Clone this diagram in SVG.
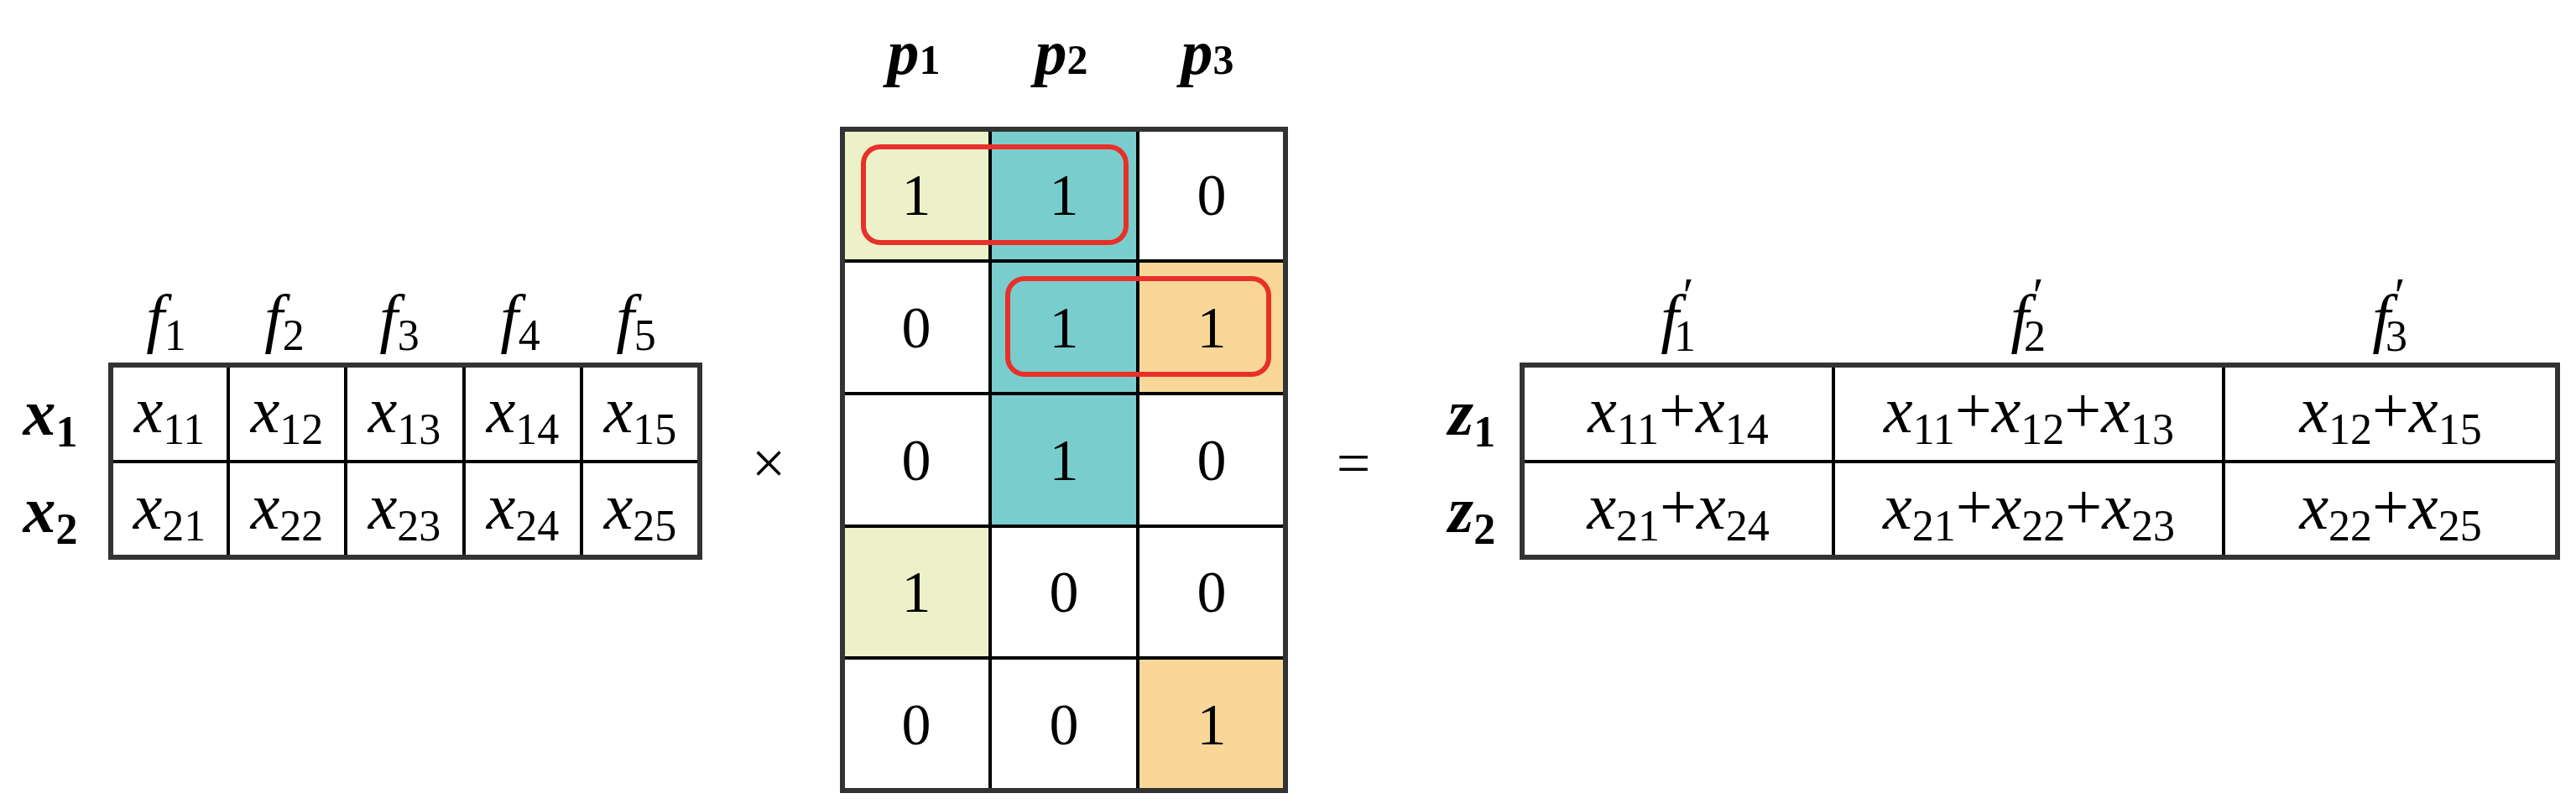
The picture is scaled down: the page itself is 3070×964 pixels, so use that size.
<svg xmlns="http://www.w3.org/2000/svg" width="3070" height="964" viewBox="0 0 3070 964">
<style>
text{font-family:"Liberation Serif","DejaVu Serif",serif;fill:#000;text-anchor:middle}
.m{font-size:78px}
.i{font-style:italic}
.b{font-weight:bold;font-style:italic}
.s{font-size:52px;font-style:normal}
.pr{font-size:60px;font-style:normal}
.g{fill:none;stroke:#000;stroke-width:4}
.o{fill:none;stroke:#333;stroke-width:6}
.red{fill:none;stroke:#E8302A;stroke-width:6}
.n{font-size:70px}
</style>
<rect width="3070" height="964" fill="#fff"/>
<g id="input-table">
<path class="g" d="M272 435V664M412 435V664M553 435V664M693 435V664M132 550H834"/>
<rect class="o" x="132" y="435" width="702" height="229"/>
<g class="m">
<text x="198" y="405"><tspan class="i">f</tspan><tspan class="s" dy="12">1</tspan></text>
<text x="339" y="405"><tspan class="i">f</tspan><tspan class="s" dy="12">2</tspan></text>
<text x="476" y="405"><tspan class="i">f</tspan><tspan class="s" dy="12">3</tspan></text>
<text x="620" y="405"><tspan class="i">f</tspan><tspan class="s" dy="12">4</tspan></text>
<text x="758" y="405"><tspan class="i">f</tspan><tspan class="s" dy="12">5</tspan></text>
<text x="60" y="518"><tspan class="b">x</tspan><tspan class="s" style="font-weight:bold" dy="14">1</tspan></text>
<text x="60" y="634"><tspan class="b">x</tspan><tspan class="s" style="font-weight:bold" dy="14">2</tspan></text>
<text x="202" y="515"><tspan class="i">x</tspan><tspan class="s" dy="14">11</tspan></text>
<text x="342" y="515"><tspan class="i">x</tspan><tspan class="s" dy="14">12</tspan></text>
<text x="482" y="515"><tspan class="i">x</tspan><tspan class="s" dy="14">13</tspan></text>
<text x="623" y="515"><tspan class="i">x</tspan><tspan class="s" dy="14">14</tspan></text>
<text x="763" y="515"><tspan class="i">x</tspan><tspan class="s" dy="14">15</tspan></text>
<text x="202" y="630"><tspan class="i">x</tspan><tspan class="s" dy="14">21</tspan></text>
<text x="342" y="630"><tspan class="i">x</tspan><tspan class="s" dy="14">22</tspan></text>
<text x="482" y="630"><tspan class="i">x</tspan><tspan class="s" dy="14">23</tspan></text>
<text x="623" y="630"><tspan class="i">x</tspan><tspan class="s" dy="14">24</tspan></text>
<text x="763" y="630"><tspan class="i">x</tspan><tspan class="s" dy="14">25</tspan></text>
</g>
</g>
<g id="times"><text x="916" y="576" style="font-size:72px">×</text></g>
<g id="matrix">
<rect x="1004" y="154" width="176" height="157" fill="#EDF1C9"/>
<rect x="1004" y="627" width="176" height="157" fill="#EDF1C9"/>
<rect x="1180" y="154" width="176" height="473" fill="#7ACDCD"/>
<rect x="1356" y="311" width="176" height="158" fill="#F8D798"/>
<rect x="1356" y="784" width="176" height="158" fill="#F8D798"/>
<path class="g" d="M1180 154V942M1356 154V942M1004 311H1532M1004 469H1532M1004 627H1532M1004 784H1532"/>
<rect class="o" x="1004" y="154" width="528" height="788"/>
<g style="font-size:76px" font-weight="bold" font-style="italic">
<text x="1089" y="88">p<tspan style="font-size:50px;font-style:normal">1</tspan></text>
<text x="1265" y="88">p<tspan style="font-size:50px;font-style:normal">2</tspan></text>
<text x="1439" y="88">p<tspan style="font-size:50px;font-style:normal">3</tspan></text>
</g>
<g class="n">
<text x="1092" y="256">1</text><text x="1268" y="256">1</text><text x="1444" y="256">0</text>
<text x="1092" y="414">0</text><text x="1268" y="414">1</text><text x="1444" y="414">1</text>
<text x="1092" y="572">0</text><text x="1268" y="572">1</text><text x="1444" y="572">0</text>
<text x="1092" y="729">1</text><text x="1268" y="729">0</text><text x="1444" y="729">0</text>
<text x="1092" y="887">0</text><text x="1268" y="887">0</text><text x="1444" y="887">1</text>
</g>
<rect class="red" x="1029" y="175" width="313" height="114" rx="20"/>
<rect class="red" x="1201" y="332" width="311" height="114" rx="20"/>
</g>
<g id="equals"><text x="1613" y="576" style="font-size:72px">=</text></g>
<g id="output-table">
<path class="g" d="M2185 435V664M2650 435V664M1814 550H3048"/>
<rect class="o" x="1814" y="435" width="1234" height="229"/>
<g class="m">
<text x="1990" y="405"><tspan class="i">f</tspan></text><text class="pr" x="2012" y="372">′</text><text class="s" x="2008" y="418">1</text>
<text x="2407" y="405"><tspan class="i">f</tspan></text><text class="pr" x="2429" y="372">′</text><text class="s" x="2425" y="418">2</text>
<text x="2838" y="405"><tspan class="i">f</tspan></text><text class="pr" x="2860" y="372">′</text><text class="s" x="2856" y="418">3</text>
<text x="1754" y="518"><tspan class="b">z</tspan><tspan class="s" style="font-weight:bold" dy="14">1</tspan></text>
<text x="1754" y="634"><tspan class="b">z</tspan><tspan class="s" style="font-weight:bold" dy="14">2</tspan></text>
<text x="2000" y="515"><tspan class="i">x</tspan><tspan class="s" dy="14">11</tspan><tspan dy="-14">+</tspan><tspan class="i">x</tspan><tspan class="s" dy="14">14</tspan></text>
<text x="2418" y="515"><tspan class="i">x</tspan><tspan class="s" dy="14">11</tspan><tspan dy="-14">+</tspan><tspan class="i">x</tspan><tspan class="s" dy="14">12</tspan><tspan dy="-14">+</tspan><tspan class="i">x</tspan><tspan class="s" dy="14">13</tspan></text>
<text x="2849" y="515"><tspan class="i">x</tspan><tspan class="s" dy="14">12</tspan><tspan dy="-14">+</tspan><tspan class="i">x</tspan><tspan class="s" dy="14">15</tspan></text>
<text x="2000" y="630"><tspan class="i">x</tspan><tspan class="s" dy="14">21</tspan><tspan dy="-14">+</tspan><tspan class="i">x</tspan><tspan class="s" dy="14">24</tspan></text>
<text x="2418" y="630"><tspan class="i">x</tspan><tspan class="s" dy="14">21</tspan><tspan dy="-14">+</tspan><tspan class="i">x</tspan><tspan class="s" dy="14">22</tspan><tspan dy="-14">+</tspan><tspan class="i">x</tspan><tspan class="s" dy="14">23</tspan></text>
<text x="2849" y="630"><tspan class="i">x</tspan><tspan class="s" dy="14">22</tspan><tspan dy="-14">+</tspan><tspan class="i">x</tspan><tspan class="s" dy="14">25</tspan></text>
</g>
</g>
</svg>
